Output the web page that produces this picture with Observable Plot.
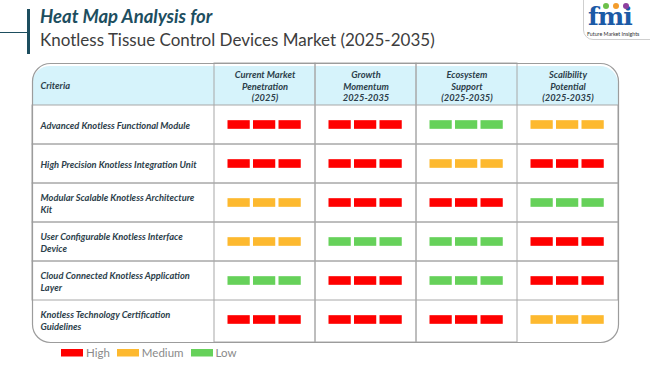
<!DOCTYPE html>
<html>
<head>
<meta charset="utf-8">
<script src="https://cdn.jsdelivr.net/npm/d3@7"></script>
<script src="https://cdn.jsdelivr.net/npm/@observablehq/plot@0.6"></script>
<style>
  body { margin: 0; background: #fff; }
  #wrap { position: relative; width: 650px; height: 365px; overflow: hidden; font-family: Lato, sans-serif; }
  #chart { position: absolute; left: 0; top: 0; }
  .t1 { position: absolute; left: 40px; top: 6px; font: italic 700 18.5px/20px Lato, sans-serif; color: #1d4e5f; white-space: nowrap; }
  .t2 { position: absolute; left: 40px; top: 30px; font: 400 17px/20px Lato, sans-serif; color: #3d3d3d; white-space: nowrap; }
  .vbar { position: absolute; left: 27px; top: 9px; width: 2.5px; height: 45px; background: #1d4e5f; }
  .hbar { position: absolute; left: 0; top: 31.5px; width: 28px; height: 1.5px; background: #1d4e5f; }
  .logo { position: absolute; left: 583px; top: -1px; width: 70px; height: 41px; border: 1px solid #cfcfcf; border-bottom-left-radius: 10px; box-sizing: border-box; }
  .fmi { position: absolute; left: 4px; top: 4px; font: 700 25px/25px "DejaVu Serif", serif; color: #1b5aa6; letter-spacing: -1px; }
  .fmisub { position: absolute; left: 3px; top: 31px; font: 400 5.3px/6px Lato, sans-serif; color: #333; white-space: nowrap; }
  .dot { position: absolute; top: 3px; width: 6px; height: 6px; border-radius: 50%; }
  #legend { position: absolute; left: 61px; top: 346px; }
  #legend .lg-swatches-wrap { min-height: 0; margin: 0; }
  #legend .lg-swatches { font-family: Lato, sans-serif; font-size: 11.5px; color: #8a8a8a; margin: 0; }
  #legend .lg-swatch { margin-right: 7px; }
  #legend .lg-swatch > svg { margin-right: 3px; }
</style>
</head>
<body>
<div id="wrap">
  <div id="chart"></div>
  <div class="hbar"></div>
  <div class="vbar"></div>
  <div class="t1">Heat Map Analysis for</div>
  <div class="t2">Knotless Tissue Control Devices Market (2025-2035)</div>
  <div class="logo">
    <div class="fmi">fmi</div>
    <div class="dot" style="left:19px;background:#6cc04a"></div>
    <div class="dot" style="left:29px;background:#f39c2b"></div>
    <div class="dot" style="left:39px;background:#8e3f9e"></div>
    <div class="fmisub">Future Market Insights</div>
  </div>
  <div id="legend"></div>
</div>
<script>
// ---- data ----
const headerKey = "Criteria";
const columns = [
  "Current Market Penetration (2025)",
  "Growth Momentum 2025-2035",
  "Ecosystem Support (2025-2035)",
  "Scalibility Potential (2025-2035)"
];
const headerLines = [
  "Current Market\nPenetration\n(2025)",
  "Growth\nMomentum\n2025-2035",
  "Ecosystem\nSupport\n(2025-2035)",
  "Scalibility\nPotential\n(2025-2035)"
];
const criteria = [
  "Advanced Knotless Functional Module",
  "High Precision Knotless Integration Unit",
  "Modular Scalable Knotless Architecture\nKit",
  "User Configurable Knotless Interface\nDevice",
  "Cloud Connected Knotless Application\nLayer",
  "Knotless Technology Certification\nGuidelines"
];
const levels = ["High", "Medium", "Low"];
const levelColors = ["#ff0000", "#fdb92f", "#66d15a"];
const penetration = ["High", "High", "Medium", "Medium", "Low", "High"];
const momentum    = ["High", "High", "High", "Low", "High", "High"];
const ecosystem   = ["Low", "Medium", "High", "Low", "Low", "High"];
const scalability = ["Medium", "High", "Low", "High", "High", "Medium"];
const series = [penetration, momentum, ecosystem, scalability];
const segments = [0, 1, 2];

const cells = criteria.flatMap((c, i) =>
  columns.map((col, j) => ({criteria: c, column: col, level: series[j][i]}))
);

// ---- layout ----
const W = 650, H = 365;
const mL = 32, mR = 32, mT = 63, mB = 23;
const colStart = 213;
const bw = (W - mR - colStart) / columns.length;
const rowH = (H - mT - mB) / (criteria.length + 1);
const barW = 22.5, barStep = 25.5, barLeft = 13.5, barH = 9.5;
const gridColor = "#a8a8a8";
const textColor = "#2c3e4a";
const font = "Lato, sans-serif";
const fs = 9.3;

const barMarks = segments.map(k => Plot.cell(cells, {
  x: "column", y: "criteria", fill: "level",
  insetLeft: barLeft + barStep * k,
  insetRight: bw - barLeft - barStep * k - barW,
  insetTop: (rowH - barH) / 2,
  insetBottom: (rowH - barH) / 2
}));

const chart = Plot.plot({
  width: W, height: H,
  marginLeft: mL, marginRight: mR, marginTop: mT, marginBottom: mB,
  x: {type: "band", domain: columns, range: [colStart, W - mR], padding: 0, axis: null},
  y: {type: "band", domain: [headerKey, ...criteria], padding: 0, axis: null},
  color: {domain: levels, range: levelColors},
  style: {fontFamily: font, background: "transparent"},
  marks: [
    Plot.cell([headerKey], {y: d => d, fill: "#d6f3fb", rx: 18}),
    Plot.cell([headerKey], {y: d => d, fill: "#d6f3fb", insetTop: 20}),
    Plot.cell(criteria.slice(0, criteria.length - 1), {y: d => d, fill: "none", stroke: gridColor}),
    Plot.cell(columns.slice(0, columns.length - 1), {x: d => d, fill: "none", stroke: gridColor}),
    Plot.frame({rx: 18, stroke: "#9c9c9c", strokeWidth: 1.2}),
    ...barMarks,
    Plot.text(columns, {
      x: d => d, y: () => headerKey, text: (d, i) => headerLines[i],
      fontStyle: "italic", fontWeight: "bold", fontSize: fs, fill: textColor, lineHeight: 1.25
    }),
    Plot.text([headerKey], {
      y: d => d, text: d => d, frameAnchor: "left", dx: 8, textAnchor: "start",
      fontStyle: "italic", fontWeight: "bold", fontSize: fs, fill: textColor
    }),
    Plot.text(criteria, {
      y: d => d, text: d => d, frameAnchor: "left", dx: 8, textAnchor: "start",
      fontStyle: "italic", fontWeight: "bold", fontSize: fs, fill: textColor, lineHeight: 1.25
    })
  ]
});
document.getElementById("chart").appendChild(chart);

const legend = Plot.legend({
  color: {type: "ordinal", domain: levels, range: levelColors},
  legend: "swatches", swatchWidth: 22, swatchHeight: 7.5, className: "lg"
});
document.getElementById("legend").appendChild(legend);
</script>
</body>
</html>
